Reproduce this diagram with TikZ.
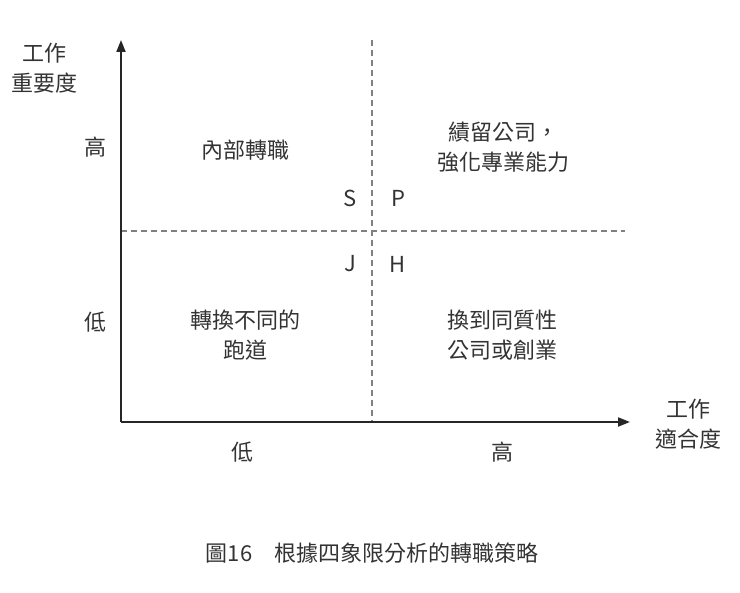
\documentclass[tikz,border=0pt]{standalone}
\usepackage{fontspec}
\setmainfont{Noto Sans CJK TC}
\usetikzlibrary{arrows.meta}
\begin{document}
\begin{tikzpicture}[x=1pt,y=-1pt,
  lbl/.style={font=\fontsize{22}{30}\selectfont,text=black!80,align=center,inner sep=0},
  axis/.style={line width=2pt,draw=black!85,-{Triangle[length=12pt,width=9pt]}},
  grid/.style={dashed,line width=1.3pt,draw=black!50,dash pattern=on 6pt off 4pt}]
\useasboundingbox (0,0) rectangle (740,593);
\coordinate (o) at (121,422);
\coordinate (ytop) at (121,40);
\coordinate (xend) at (630,422);
\coordinate (vt) at (372,40);
\coordinate (vb) at (372,422);
\coordinate (hl) at (121,231);
\coordinate (hr) at (625,231);
\draw[grid] (vt) -- (vb);
\draw[grid] (hl) -- (hr);
\draw[axis] (o) -- (ytop);
\draw[axis] (o) -- (xend);
\node[lbl] (yl) at (45,68) {工作\\重要度};
\node[lbl] (yh) at (95,147) {高};
\node[lbl] (ylo) at (95,322) {低};
\node[lbl] (xlo) at (242,452) {低};
\node[lbl] (xh) at (502,452) {高};
\node[lbl] (xl) at (688,424) {工作\\適合度};
\node[lbl] (q1) at (245,150) {內部轉職};
\node[lbl] (q2) at (503,147) {績留公司，\\強化專業能力};
\node[lbl] (s) at (350,198) {S};
\node[lbl] (p) at (398,198) {P};
\node[lbl] (j) at (350,264) {J};
\node[lbl] (h) at (398,264) {H};
\node[lbl] (q3) at (245,335) {轉換不同的\\跑道};
\node[lbl] (q4) at (502,335) {換到同質性\\公司或創業};
\node[lbl] (cap) at (372,553) {圖16\quad 根據四象限分析的轉職策略};
\end{tikzpicture}
\end{document}
